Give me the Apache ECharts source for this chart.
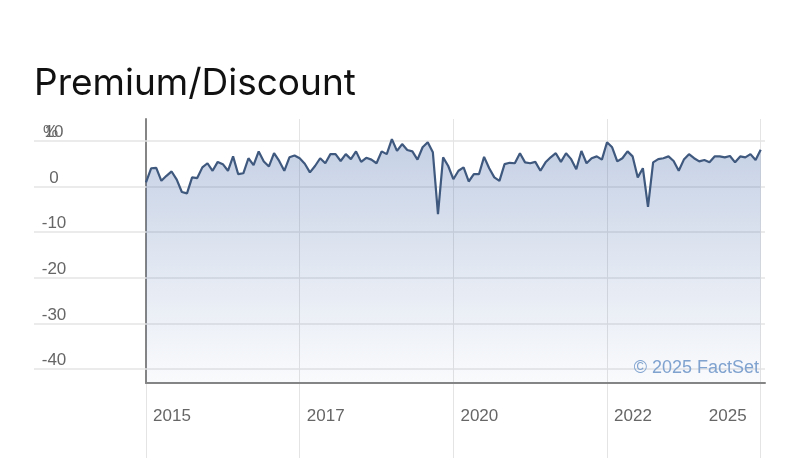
<!DOCTYPE html>
<html><head><meta charset="utf-8">
<script src="https://cdn.jsdelivr.net/npm/echarts@6/dist/echarts.min.js"></script>
<style>html,body{margin:0;padding:0;background:#fff}#c{width:792px;height:458px}</style>
</head><body><div id="c"></div>
<script>
// ---------- data ----------
const chartTitle = 'Premium/Discount';
const startYear = 2015;           // first monthly observation: Jan 2015
const premium = [
  0.9, 4.0, 4.1, 1.25, 2.35, 3.3, 1.5, -1.2, -1.5, 2.0, 1.85, 4.2,
  5.1, 3.45, 5.4, 4.9, 3.45, 6.6, 2.7, 2.9, 6.2, 4.7, 7.7, 5.5,
  4.4, 7.3, 5.6, 3.45, 6.4, 6.8, 6.2, 5.0, 3.1, 4.5, 6.2, 5.1,
  7.1, 7.1, 5.6, 7.1, 6.0, 7.7, 5.4, 6.3, 5.9, 5.1, 7.7, 7.1,
  10.4, 7.8, 9.3, 8.0, 7.7, 5.9, 8.6, 9.7, 7.5, -6.05, 6.4, 4.5,
  1.6, 3.45, 4.2, 1.1, 2.7, 2.7, 6.5, 4.0, 2.0, 1.25, 4.9, 5.2,
  5.1, 7.3, 5.3, 5.1, 5.4, 3.45, 5.3, 6.4, 7.3, 5.4, 7.3, 6.0,
  3.8, 7.8, 5.1, 6.2, 6.6, 5.9, 9.7, 8.6, 5.5, 6.2, 7.7, 6.6,
  2.0, 4.0, -4.45, 5.3, 6.0, 6.2, 6.6, 5.6, 3.45, 5.9, 7.1, 6.2,
  5.5, 5.8, 5.3, 6.6, 6.6, 6.4, 6.7, 5.3, 6.6, 6.4, 7.1, 5.8,
  8.05
];
const xTickValues = [2015, 2017.5, 2020, 2022.5, 2025];
const xTickLabels = ['2015', '2017', '2020', '2022', '2025'];
const yTickValues = [-40, -30, -20, -10, 0, 10];
const yTickLabels = ['-40', '-30', '-20', '-10', '0', '10'];
const yUnit = '%';
const creditText = '\u00A9 2025 FactSet';

// ---------- axis ranges ----------
const X_MIN = 2015, X_MAX = 2025.07, X_INTERVAL = 2.5;
const Y_MIN = -43.07, Y_MAX = 14.8;

const seriesData = premium.map((v, i) => [startYear + i / 12, v]);

const labelFont = 'Liberation Sans, Arial, sans-serif';
const labelColor = '#666';
const gridColor = '#e4e4e4';
const axisColor = '#858585';

const chart = echarts.init(document.getElementById('c'), null, {renderer: 'canvas'});
chart.setOption({
  animation: false,
  backgroundColor: '#fff',
  title: {
    text: chartTitle, left: 29, top: 60,
    textStyle: {fontFamily: 'Inter', fontSize: 37, fontWeight: 'normal', color: '#111'}
  },
  grid: [
    {left: 146, right: 27, top: 119, bottom: 75},   // main plot
    {left: 34,  right: 27, top: 119, bottom: 75},   // horizontal grid lines
    {left: 146, right: 27, top: 119, bottom: 0}     // vertical grid lines
  ],
  xAxis: [
    {
      gridIndex: 0, type: 'value', min: X_MIN, max: X_MAX,
      axisLine: {show: true, onZero: false, lineStyle: {color: axisColor, width: 2}},
      axisTick: {show: false}, splitLine: {show: false},
      axisLabel: {
        customValues: xTickValues,
        margin: 25, align: 'center',
        color: labelColor, fontFamily: labelFont, fontSize: 17,
        formatter: function (v) {
          const i = xTickValues.findIndex(t => Math.abs(t - v) < 1e-6);
          if (i < 0) return '';
          const lab = xTickLabels[i];
          if (i === xTickValues.length - 1) return '{r|' + lab + '}{gr| }';
          return '{gl| }{l|' + lab + '}';
        },
        rich: {
          gl: {width: 52},
          l:  {width: 42, align: 'left', color: labelColor, fontFamily: labelFont, fontSize: 17},
          r:  {width: 42, align: 'right', color: labelColor, fontFamily: labelFont, fontSize: 17},
          gr: {width: 66}
        }
      }
    },
    {gridIndex: 1, type: 'value', min: 0, max: 1, show: false},
    {
      gridIndex: 2, type: 'value', min: X_MIN, max: X_MAX, interval: X_INTERVAL,
      axisLine: {show: false}, axisTick: {show: false}, axisLabel: {show: false},
      splitLine: {show: true, showMaxLine: false, lineStyle: {color: gridColor, width: 1}}
    }
  ],
  yAxis: [
    {
      gridIndex: 0, type: 'value', min: Y_MIN, max: Y_MAX,
      axisLine: {show: true, onZero: false, lineStyle: {color: axisColor, width: 2}},
      axisTick: {show: false}, splitLine: {show: false},
      axisLabel: {
        customValues: yTickValues,
        margin: 92, align: 'center', verticalAlign: 'bottom',
        color: labelColor, fontFamily: labelFont, fontSize: 17,
        formatter: function (v) {
          const i = yTickValues.findIndex(t => Math.abs(t - v) < 1e-6);
          return i < 0 ? '' : yTickLabels[i];
        }
      }
    },
    {gridIndex: 1, type: 'value', min: Y_MIN, max: Y_MAX, show: false},
    {gridIndex: 2, type: 'value', min: 0, max: 1, show: false}
  ],
  graphic: [
    {type: 'text', left: 43, top: 124, z: 10,
     style: {text: yUnit, fill: labelColor, font: '17px ' + labelFont}},
    {type: 'text', right: 33, top: 359, z: 10,
     style: {text: creditText, fill: '#7fa2cf', font: '18px ' + labelFont}}
  ],
  series: [
    {
      type: 'line', xAxisIndex: 1, yAxisIndex: 1, data: [], silent: true, z: 1,
      markLine: {
        silent: true, symbol: 'none', animation: false, z: 1,
        label: {show: false},
        lineStyle: {color: gridColor, width: 1.5, type: 'solid'},
        emphasis: {disabled: true},
        data: yTickValues.map(v => ({yAxis: v}))
      }
    },
    {
      type: 'line', xAxisIndex: 0, yAxisIndex: 0, z: 3,
      data: seriesData, symbol: 'none', showSymbol: false,
      lineStyle: {color: '#3f587e', width: 2.2},
      areaStyle: {
        origin: 'start',
        color: new echarts.graphic.LinearGradient(0, 0, 0, 1, [
          {offset: 0, color: 'rgba(55,95,165,0.42)'},
          {offset: 0.5, color: 'rgba(55,95,165,0.22)'},
          {offset: 1, color: 'rgba(55,95,165,0.04)'}
        ])
      }
    }
  ]
});
</script>
</body></html>
